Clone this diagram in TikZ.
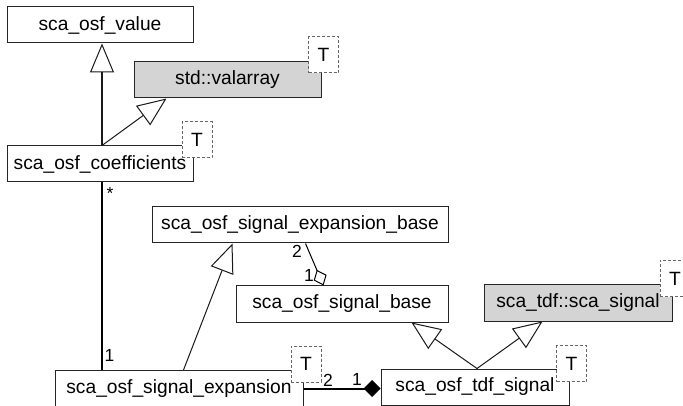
\documentclass[tikz,border=0pt]{standalone}
\usepackage{fontspec}
\setmainfont{Liberation Sans}
\usetikzlibrary{arrows.meta}
\begin{document}
\begin{tikzpicture}[x=1pt,y=-1pt,
  cls/.style={draw=black!85, line width=1pt, minimum height=36pt, inner sep=0pt, fill=white, font=\fontsize{19.2}{21}\selectfont},
  ext/.style={cls, fill=black!17},
  tmpl/.style={draw=black!60, dash pattern=on 3pt off 2pt, line width=1pt, fill=white, minimum width=30pt, minimum height=36pt, inner sep=0pt, font=\fontsize{19.2}{21}\selectfont},
  inh/.style={line width=1pt, draw=black!90, -{Triangle[open,length=29pt,width=24pt,line width=1pt]}},
  inhthick/.style={inh, line width=2pt},
  assoc/.style={line width=2pt},
  aggr/.style={line width=1pt, -{Diamond[open,length=17pt,width=14pt,line width=1pt]}},
  compo/.style={line width=2pt, -{Diamond[length=17pt,width=17pt]}},
  mult/.style={inner sep=0pt, font=\fontsize{17.5}{18}\selectfont}
]
\useasboundingbox (0,0) rectangle (683,406);

% classes
\node[cls, minimum width=186pt] (val) at (100,25) {sca\_osf\_value};
\node[ext, minimum width=187pt] (valarray) at (227.5,80) {std::valarray};
\node[cls, minimum width=186pt] (coef) at (100,164) {sca\_osf\_coefficients};
\node[cls, minimum width=296pt] (seb) at (300,225) {sca\_osf\_signal\_expansion\_base};
\node[cls, minimum width=212pt] (sb) at (342,304) {sca\_osf\_signal\_base};
\node[ext, minimum width=188pt] (tsig) at (578,303) {sca\_tdf::sca\_signal};
\node[cls, minimum width=248pt] (se) at (179,388.5) {sca\_osf\_signal\_expansion};
\node[cls, minimum width=188pt] (tdf) at (475,387) {sca\_osf\_tdf\_signal};

% template parameter boxes
\node[tmpl] (valarrayT) at (323.5,55) {T};
\node[tmpl] (coefT) at (197,140) {T};
\node[tmpl] (seT) at (306,364) {T};
\node[tmpl] (tdfT) at (571.5,363.5) {T};
\node[tmpl] (tsigT) at (675,278.5) {T};

% inheritance
\draw[inhthick] ([xshift=2pt]coef.north) -- ([xshift=2pt]val.south);
\draw[inh] ([xshift=2pt]coef.north) -- ([xshift=33pt]valarray.south west);
\draw[inh] ([xshift=129pt]se.north west) -- ([xshift=81pt]seb.south west);
\draw[inh] ([xshift=2pt]tdf.north) -- ([xshift=176pt]sb.south west);
\draw[inh] ([xshift=2pt]tdf.north) -- ([xshift=59pt]tsig.south west);

% association
\draw[assoc] ([xshift=2pt]coef.south) -- ([xshift=2pt]coef.south |- se.north);
\node[mult] (m1) at (110,193) {*};
\node[mult] (m2) at (109.5,355) {1};

% aggregation
\draw[aggr] ([xshift=154pt]seb.south west) -- ([xshift=88pt]sb.north west);
\node[mult] (m3) at (297,251) {2};
\node[mult] (m4) at (309,275) {1};

% composition
\draw[compo] (se.east) -- (se.east -| tdf.west);
\node[mult] (m5) at (328,380) {2};
\node[mult] (m6) at (357,379) {1};
\end{tikzpicture}
\end{document}
